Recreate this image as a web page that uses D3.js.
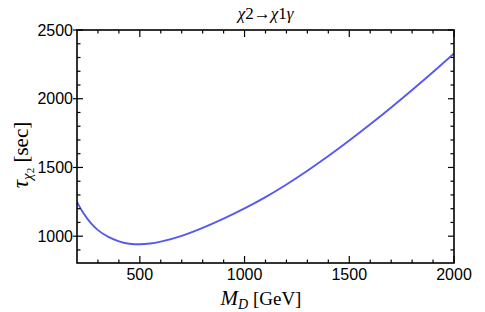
<!DOCTYPE html>
<html>
<head>
<meta charset="utf-8">
<script src="https://cdn.jsdelivr.net/npm/d3@7"></script>
<style>
  body { margin: 0; background: #fff; }
  .tick-label { font-family: "Liberation Sans", Arial, sans-serif; font-size: 16px; fill: #000; }
  .serif { font-family: "Liberation Serif", "Times New Roman", serif; fill: #000; }
</style>
</head>
<body>
<div class="svg-container"></div>
<script>
// curve values
var massValues = [200, 225, 250, 275, 300, 350, 400, 450, 500, 550, 600, 700, 800, 900, 1000,
                  1100, 1200, 1300, 1400, 1500, 1600, 1700, 1800, 1900, 2000];
var lifetimeValues = [1250, 1181, 1126, 1080, 1044, 995, 963, 945, 941, 947, 961, 1003, 1061, 1128, 1202,
                      1284, 1376, 1476, 1583, 1696, 1814, 1937, 2064, 2195, 2330];
var xTicks = [500, 1000, 1500, 2000];
var yTicks = [1000, 1500, 2000, 2500];
var xDomain = [200, 2000];
var yDomain = [805, 2500];

var data = massValues.map(function(m, i) { return {m: m, t: lifetimeValues[i]}; });

var width = 485, height = 312;
var plotLeft = 77, plotRight = 454, plotTop = 30, plotBottom = 263;

var svg = d3.select(".svg-container").append("svg")
    .attr("width", width)
    .attr("height", height);

var x = d3.scaleLinear().domain(xDomain).range([plotLeft, plotRight]);
var y = d3.scaleLinear().domain(yDomain).range([plotBottom, plotTop]);

// curve
var line = d3.line()
    .x(function(d) { return x(d.m); })
    .y(function(d) { return y(d.t); })
    .curve(d3.curveMonotoneX);

svg.append("defs").append("clipPath").attr("id", "clip")
    .append("rect").attr("x", plotLeft).attr("y", plotTop)
    .attr("width", plotRight - plotLeft).attr("height", plotBottom - plotTop);

svg.append("path")
    .datum(data)
    .attr("d", line)
    .attr("clip-path", "url(#clip)")
    .attr("fill", "none")
    .attr("stroke", "#5858f0")
    .attr("stroke-width", 1.9);

// ticks, all sides, inward
var minorX = d3.range(300, 2000, 100).filter(function(v) { return v % 500 != 0; });
var minorY = d3.range(900, 2500, 100).filter(function(v) { return v % 500 != 0; });
var tickG = svg.append("g").attr("stroke", "#000").attr("stroke-width", 1.2);

[[plotBottom, -1], [plotTop, 1]].forEach(function(side) {
    xTicks.forEach(function(v) {
        tickG.append("line").attr("x1", x(v)).attr("x2", x(v))
            .attr("y1", side[0]).attr("y2", side[0] + side[1] * 7);
    });
    minorX.forEach(function(v) {
        tickG.append("line").attr("x1", x(v)).attr("x2", x(v))
            .attr("y1", side[0]).attr("y2", side[0] + side[1] * 3.5);
    });
});
[[plotLeft, 1], [plotRight, -1]].forEach(function(side) {
    yTicks.forEach(function(v) {
        var outer = side[0] == plotLeft ? 4 : 0;
        tickG.append("line").attr("y1", y(v)).attr("y2", y(v))
            .attr("x1", side[0] - side[1] * outer).attr("x2", side[0] + side[1] * 6);
    });
    minorY.forEach(function(v) {
        tickG.append("line").attr("y1", y(v)).attr("y2", y(v))
            .attr("x1", side[0]).attr("x2", side[0] + side[1] * 3.5);
    });
});

// frame
svg.append("rect")
    .attr("x", plotLeft).attr("y", plotTop)
    .attr("width", plotRight - plotLeft).attr("height", plotBottom - plotTop)
    .attr("fill", "none")
    .attr("stroke", "#000")
    .attr("stroke-width", 1.6);

// tick labels
xTicks.forEach(function(v) {
    svg.append("text").attr("class", "tick-label")
        .attr("x", x(v)).attr("y", 280)
        .attr("text-anchor", "middle")
        .text(v);
});
yTicks.forEach(function(v) {
    svg.append("text").attr("class", "tick-label")
        .attr("x", plotLeft - 4).attr("y", y(v) + 5.5)
        .attr("text-anchor", "end")
        .text(v);
});

// title
var title = svg.append("text").attr("class", "serif")
    .attr("x", (plotLeft + plotRight) / 2).attr("y", 19)
    .attr("text-anchor", "middle")
    .style("font-size", "17px");
title.append("tspan").style("font-style", "italic").text("χ");
title.append("tspan").text("2→");
title.append("tspan").style("font-style", "italic").text("χ");
title.append("tspan").text("1");
title.append("tspan").style("font-style", "italic").text("γ");

// x label
var xl = svg.append("text").attr("class", "serif")
    .attr("x", 261).attr("y", 305)
    .attr("text-anchor", "middle")
    .style("font-size", "19px");
xl.append("tspan").style("font-style", "italic").style("font-size", "21px").text("M");
xl.append("tspan").style("font-style", "italic").style("font-size", "14px").attr("dy", 4).text("D");
xl.append("tspan").attr("dy", -4).text(" [GeV]");

// y label
var yl = svg.append("text").attr("class", "serif")
    .attr("transform", "translate(28,155) rotate(-90)")
    .attr("text-anchor", "middle")
    .style("font-size", "21px");
yl.append("tspan").style("font-style", "italic").style("font-size", "23px").text("τ");
yl.append("tspan").style("font-style", "italic").style("font-size", "15px").attr("dy", 4).text("χ");
yl.append("tspan").style("font-size", "11px").attr("dy", 2).text("2");
yl.append("tspan").attr("dy", -6).text(" [sec]");
</script>
</body>
</html>
